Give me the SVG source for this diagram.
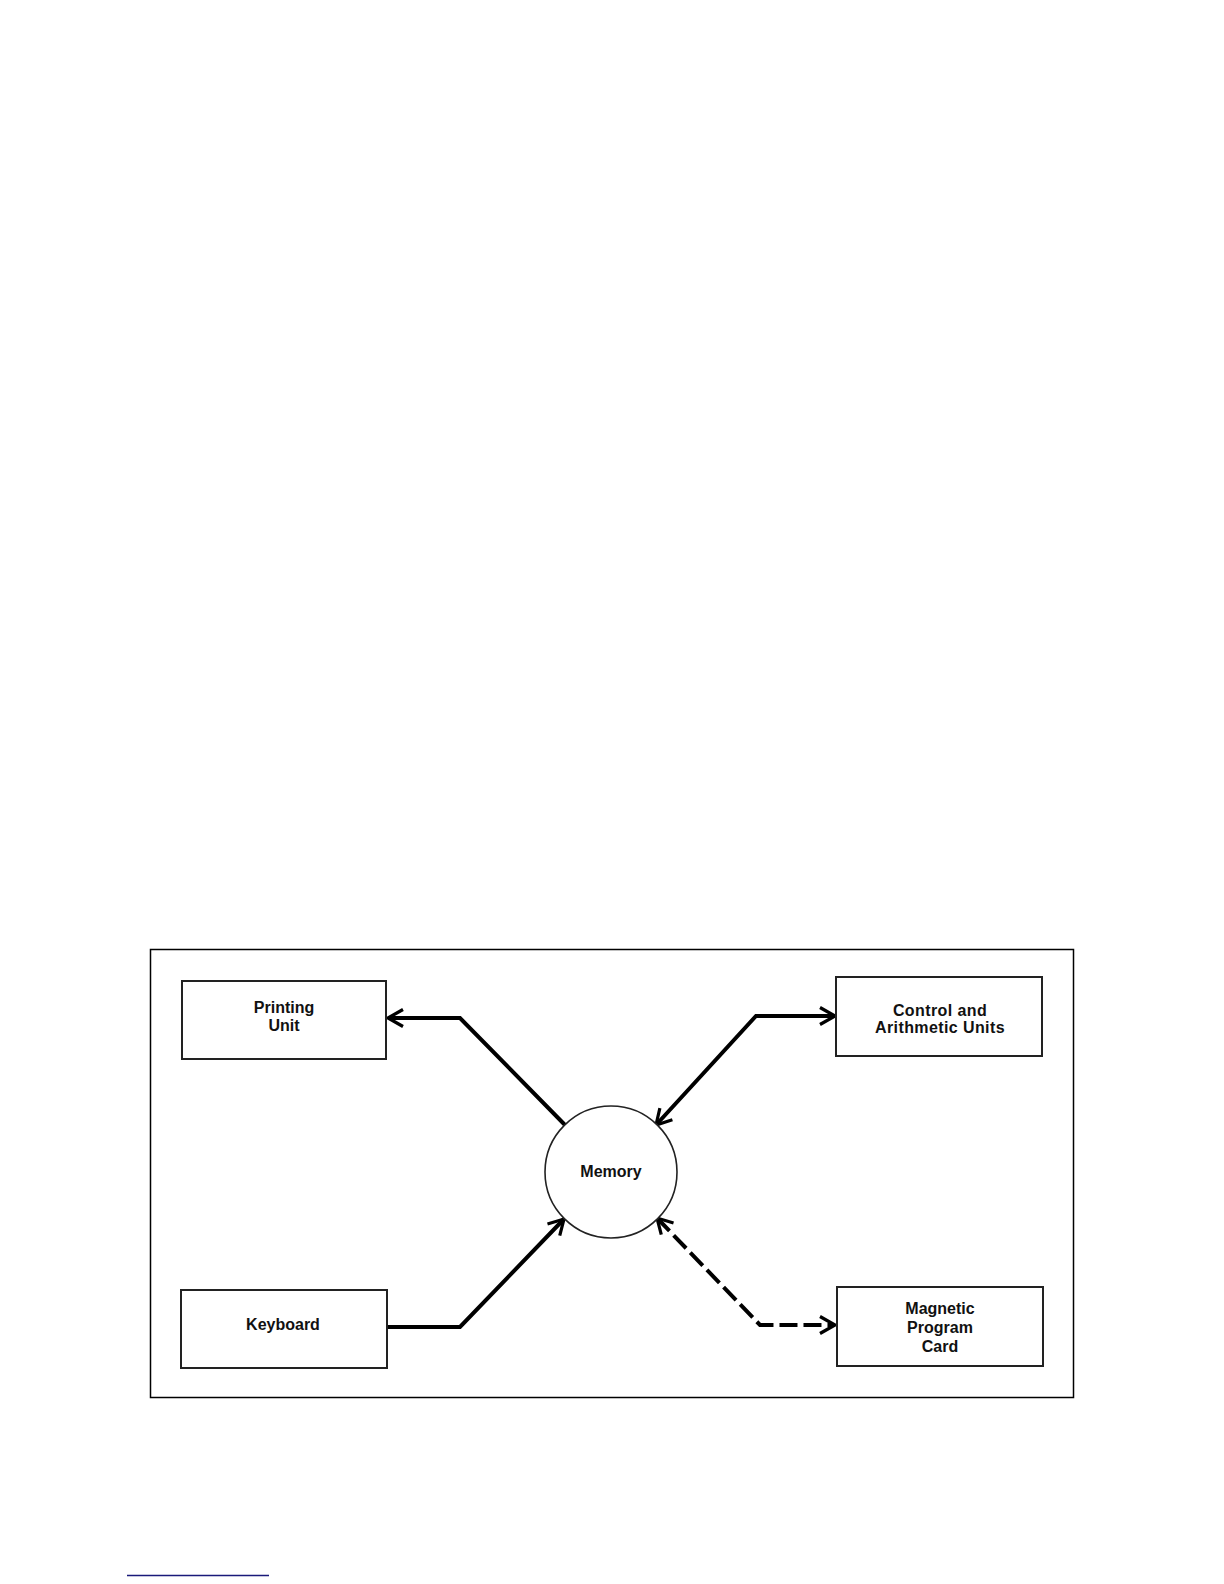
<svg xmlns="http://www.w3.org/2000/svg" width="1224" height="1584" viewBox="0 0 1224 1584">
  <style>
    .box { fill: #fff; stroke: #222; stroke-width: 2; }
    .lbl { font-family: "Liberation Sans", Arial, sans-serif; font-size: 16px; font-weight: bold; fill: #111; text-anchor: middle; }
    .wide { letter-spacing: 0.4px; }
    .conn { fill: none; stroke: #000; stroke-width: 4; stroke-linejoin: miter; }
    .dash { stroke-dasharray: 18 6; }
  </style>
  <defs>
    <marker id="arr" viewBox="0 0 20 20" refX="18" refY="10" markerWidth="20" markerHeight="20" markerUnits="userSpaceOnUse" orient="auto-start-reverse">
      <path d="M3,1.5 L18,10 L3,18.5" fill="none" stroke="#000" stroke-width="3.2" stroke-dasharray="none"/>
    </marker>
  </defs>
  <rect x="0" y="0" width="1224" height="1584" fill="#fff"/>
  <rect id="frame" x="150.5" y="949.5" width="923" height="448" fill="none" stroke="#000" stroke-width="1.5"/>

  <g id="connectors">
    <path class="conn" d="M565,1125 L460,1018 L388,1018" marker-end="url(#arr)"/>
    <path class="conn" d="M656,1125 L756,1016 L835,1016" marker-start="url(#arr)" marker-end="url(#arr)"/>
    <path class="conn" d="M387,1327 L460,1327 L564,1219" marker-end="url(#arr)"/>
    <path class="conn dash" d="M657,1218 L760,1325 L835,1325" marker-start="url(#arr)" marker-end="url(#arr)"/>
  </g>

  <g id="printing-unit">
    <rect class="box" x="182" y="981" width="204" height="78"/>
    <text class="lbl" x="284" y="1013">Printing</text>
    <text class="lbl" x="284" y="1031">Unit</text>
  </g>
  <g id="control-arithmetic">
    <rect class="box" x="836" y="977" width="206" height="79"/>
    <text class="lbl wide" x="940" y="1016">Control and</text>
    <text class="lbl wide" x="940" y="1033">Arithmetic Units</text>
  </g>
  <g id="memory">
    <circle cx="611" cy="1172" r="66" fill="#fff" stroke="#222" stroke-width="1.6"/>
    <text class="lbl" x="611" y="1177">Memory</text>
  </g>
  <g id="keyboard">
    <rect class="box" x="181" y="1290" width="206" height="78"/>
    <text class="lbl" x="283" y="1330">Keyboard</text>
  </g>
  <g id="magnetic-program-card">
    <rect class="box" x="837" y="1287" width="206" height="79"/>
    <text class="lbl" x="940" y="1314">Magnetic</text>
    <text class="lbl" x="940" y="1333">Program</text>
    <text class="lbl" x="940" y="1352">Card</text>
  </g>

  <line x1="127" y1="1575.5" x2="269" y2="1575.5" stroke="#1a1a7a" stroke-width="1.5"/>
</svg>
